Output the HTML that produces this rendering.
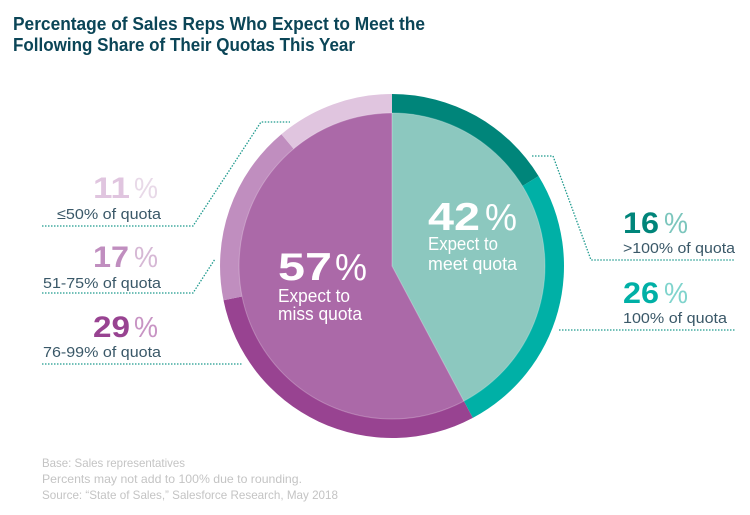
<!DOCTYPE html>
<html><head><meta charset="utf-8"><style>
html,body{margin:0;padding:0;background:#fff;}
svg{display:block;}
text{font-family:"Liberation Sans",sans-serif;}
</style></head><body>
<svg width="750" height="515" viewBox="0 0 750 515" xmlns="http://www.w3.org/2000/svg">
<rect width="750" height="515" fill="#fff"/>
<!-- Title -->
<text x="13" y="30" font-size="18" font-weight="bold" fill="#0b4557" textLength="412" lengthAdjust="spacingAndGlyphs">Percentage of Sales Reps Who Expect to Meet the</text>
<text x="13" y="51" font-size="18" font-weight="bold" fill="#0b4557" textLength="342" lengthAdjust="spacingAndGlyphs">Following Share of Their Quotas This Year</text>

<!-- Outer ring wedges (R=172) -->
<path d="M392 266 L392 94 A172 172 0 0 1 538.6 176.1 Z" fill="#00857a"/>
<path d="M392 266 L538.6 176.1 A172 172 0 0 1 472.8 417.9 Z" fill="#00b0a6"/>
<path d="M392 266 L472.8 417.9 A172 172 0 0 1 223.5 300.3 Z" fill="#984391"/>
<path d="M392 266 L223.5 300.3 A172 172 0 0 1 281.4 134.2 Z" fill="#c08ebf"/>
<path d="M392 266 L281.4 134.2 A172 172 0 0 1 392 94 Z" fill="#e0c5df"/>

<!-- Inner pie (R=153) -->
<path d="M392 266 L392 113 A153 153 0 0 1 463.8 401.1 Z" fill="#8cc8bf"/>
<path d="M392 266 L463.8 401.1 A153 153 0 1 1 392 113 Z" fill="#ab69a8"/>
<circle cx="392" cy="266" r="153" fill="none" stroke="#ffffff" stroke-opacity="0.25" stroke-width="1"/>
<path d="M392 113 L392 266 L463.8 401.1" fill="none" stroke="#ffffff" stroke-opacity="0.3" stroke-width="1"/>

<!-- Center texts -->
<text x="278" y="280" font-size="39" font-weight="bold" fill="#fff" textLength="54" lengthAdjust="spacingAndGlyphs">57</text>
<text x="335" y="280" font-size="38" fill="#fff" textLength="32" lengthAdjust="spacingAndGlyphs">%</text>
<text x="278" y="302" font-size="18" fill="#fff" textLength="72" lengthAdjust="spacingAndGlyphs">Expect to</text>
<text x="278" y="320" font-size="18" fill="#fff" textLength="84" lengthAdjust="spacingAndGlyphs">miss quota</text>

<text x="428" y="230" font-size="39" font-weight="bold" fill="#fff" textLength="52" lengthAdjust="spacingAndGlyphs">42</text>
<text x="485" y="230" font-size="38" fill="#fff" textLength="32" lengthAdjust="spacingAndGlyphs">%</text>
<text x="428" y="250" font-size="18" fill="#fff" textLength="70" lengthAdjust="spacingAndGlyphs">Expect to</text>
<text x="428" y="270" font-size="18" fill="#fff" textLength="89" lengthAdjust="spacingAndGlyphs">meet quota</text>

<!-- Dotted leader lines -->
<g fill="none" stroke="#1f9a8e" stroke-width="1.3" stroke-dasharray="1.5 1.5">
<path d="M42 226 H193 L261 122 H290"/>
<path d="M42 293 H193 L215 259"/>
<path d="M42 364 H243"/>
<path d="M532 156 H553 L591 260 H735"/>
<path d="M559 330 H735"/>
</g>

<!-- Left labels -->
<text x="93" y="198" font-size="30" font-weight="bold" fill="#e0c5df" textLength="37" lengthAdjust="spacingAndGlyphs">11</text>
<text x="134" y="198" font-size="29" fill="#e8d9e8" textLength="24" lengthAdjust="spacingAndGlyphs">%</text>
<text x="57" y="219" font-size="15" fill="#3a5868" textLength="104" lengthAdjust="spacingAndGlyphs">≤50% of quota</text>

<text x="93" y="267" font-size="30" font-weight="bold" fill="#c08ebf" textLength="36" lengthAdjust="spacingAndGlyphs">17</text>
<text x="134" y="267" font-size="29" fill="#d6b8d5" textLength="24" lengthAdjust="spacingAndGlyphs">%</text>
<text x="43" y="288" font-size="15" fill="#3a5868" textLength="118" lengthAdjust="spacingAndGlyphs">51-75% of quota</text>

<text x="93" y="337" font-size="30" font-weight="bold" fill="#984391" textLength="37" lengthAdjust="spacingAndGlyphs">29</text>
<text x="134" y="337" font-size="29" fill="#c894c4" textLength="24" lengthAdjust="spacingAndGlyphs">%</text>
<text x="43" y="357" font-size="15" fill="#3a5868" textLength="118" lengthAdjust="spacingAndGlyphs">76-99% of quota</text>

<!-- Right labels -->
<text x="623" y="233" font-size="30" font-weight="bold" fill="#00857a" textLength="36" lengthAdjust="spacingAndGlyphs">16</text>
<text x="664" y="233" font-size="29" fill="#7cc6bd" textLength="24" lengthAdjust="spacingAndGlyphs">%</text>
<text x="623" y="253" font-size="15" fill="#3a5868" textLength="112" lengthAdjust="spacingAndGlyphs">&gt;100% of quota</text>

<text x="623" y="303" font-size="30" font-weight="bold" fill="#00b0a6" textLength="36" lengthAdjust="spacingAndGlyphs">26</text>
<text x="664" y="303" font-size="29" fill="#80d4cd" textLength="24" lengthAdjust="spacingAndGlyphs">%</text>
<text x="623" y="323" font-size="15" fill="#3a5868" textLength="104" lengthAdjust="spacingAndGlyphs">100% of quota</text>

<!-- Footnote -->
<text x="42" y="467" font-size="12" fill="#c4c4c4" textLength="143" lengthAdjust="spacingAndGlyphs">Base: Sales representatives</text>
<text x="42" y="483" font-size="12" fill="#c4c4c4" textLength="260" lengthAdjust="spacingAndGlyphs">Percents may not add to 100% due to rounding.</text>
<text x="42" y="499" font-size="12" fill="#c4c4c4" textLength="296" lengthAdjust="spacingAndGlyphs">Source: “State of Sales,” Salesforce Research, May 2018</text>
</svg>
</body></html>
